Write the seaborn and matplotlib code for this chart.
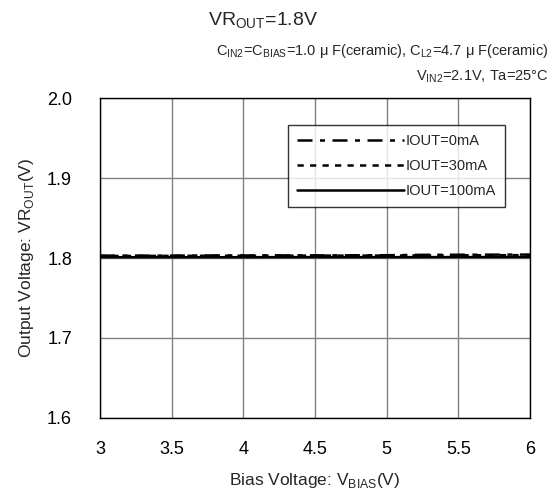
import pandas as pd
import matplotlib
matplotlib.use("Agg")
import matplotlib.pyplot as plt
import seaborn as sns

# data
bias_v = [3.0, 3.25, 3.5, 3.75, 4.0, 4.25, 4.5, 4.75, 5.0, 5.25, 5.5, 5.75, 6.0]
vout_0ma = [1.8030, 1.8030, 1.8030, 1.8032, 1.8032, 1.8033, 1.8033, 1.8034, 1.8035,
            1.8040, 1.8041, 1.8042, 1.8043]
vout_30ma = [1.8025, 1.8026, 1.8027, 1.8028, 1.8028, 1.8029, 1.8030, 1.8030, 1.8031,
             1.8033, 1.8034, 1.8035, 1.8036]
vout_100ma = [1.8010, 1.8010, 1.8010, 1.8010, 1.8010, 1.8011, 1.8011, 1.8011, 1.8011,
              1.8011, 1.8012, 1.8012, 1.8012]
series_names = ["IOUT=0mA", "IOUT=30mA", "IOUT=100mA"]
x_ticks = [3, 3.5, 4, 4.5, 5, 5.5, 6]
y_ticks = [1.6, 1.7, 1.8, 1.9, 2.0]

rows = []
for name, vals in zip(series_names, [vout_0ma, vout_30ma, vout_100ma]):
    for xv, yv in zip(bias_v, vals):
        rows.append({"Bias": xv, "Vout": yv, "IOUT": name})
df = pd.DataFrame(rows)

sns.set_theme(style="whitegrid")
plt.rcParams["font.family"] = ["Liberation Sans", "Noto Sans CJK JP", "DejaVu Sans"]
plt.rcParams["mathtext.fontset"] = "custom"
plt.rcParams["mathtext.rm"] = "Liberation Sans"

fig = plt.figure(figsize=(5.55, 5.01), dpi=100)
ax = fig.add_axes([0.180, 0.166, 0.775, 0.638])

sns.lineplot(
    data=df, x="Bias", y="Vout", hue="IOUT", style="IOUT",
    palette={n: "black" for n in series_names},
    dashes={"IOUT=0mA": (6, 3, 2, 3), "IOUT=30mA": (2.5, 2.5), "IOUT=100mA": ""},
    linewidth=1.8, ax=ax,
)

ax.set_xlim(3, 6)
ax.set_ylim(1.6, 2.0)
ax.set_xticks(x_ticks)
ax.set_xticklabels(["3", "3.5", "4", "4.5", "5", "5.5", "6"])
ax.set_yticks(y_ticks)
ax.set_yticklabels(["1.6", "1.7", "1.8", "1.9", "2.0"])
ax.tick_params(axis="x", labelsize=13, colors="black", pad=11)
ax.tick_params(axis="y", labelsize=13, colors="black", pad=14)
ax.grid(True, color="#808080", linewidth=1.0)
ax.set_facecolor("white")
for sp in ax.spines.values():
    sp.set_color("black")
    sp.set_linewidth(1.0)

ax.set_xlabel("Bias Voltage: V$_{\\mathrm{BIAS}}$(V)", fontsize=12.5, labelpad=9)
ax.set_ylabel("Output Voltage: VR$_{\\mathrm{OUT}}$(V)", fontsize=12.5, labelpad=8)

leg = ax.legend(loc="upper right", bbox_to_anchor=(0.942, 0.915), borderaxespad=0,
                handlelength=7.4, fontsize=10.5, frameon=True, fancybox=False,
                borderpad=0.6, labelspacing=0.75, handletextpad=0.1)
leg.get_frame().set_edgecolor("black")
leg.get_frame().set_linewidth(1.0)
leg.set_title(None)

fig.text(0.375, 0.958, "VR$_{\\mathrm{OUT}}$=1.8V", fontsize=14, ha="left", va="center")
fig.text(0.988, 0.898, "C$_{\\mathrm{IN2}}$=C$_{\\mathrm{BIAS}}$=1.0 μ F(ceramic), "
         "C$_{\\mathrm{L2}}$=4.7 μ F(ceramic)", fontsize=10.5, ha="right", va="center")
fig.text(0.988, 0.848, "V$_{\\mathrm{IN2}}$=2.1V, Ta=25°C", fontsize=10.5,
         ha="right", va="center")

fig.savefig("out.png", dpi=100, facecolor="white")
